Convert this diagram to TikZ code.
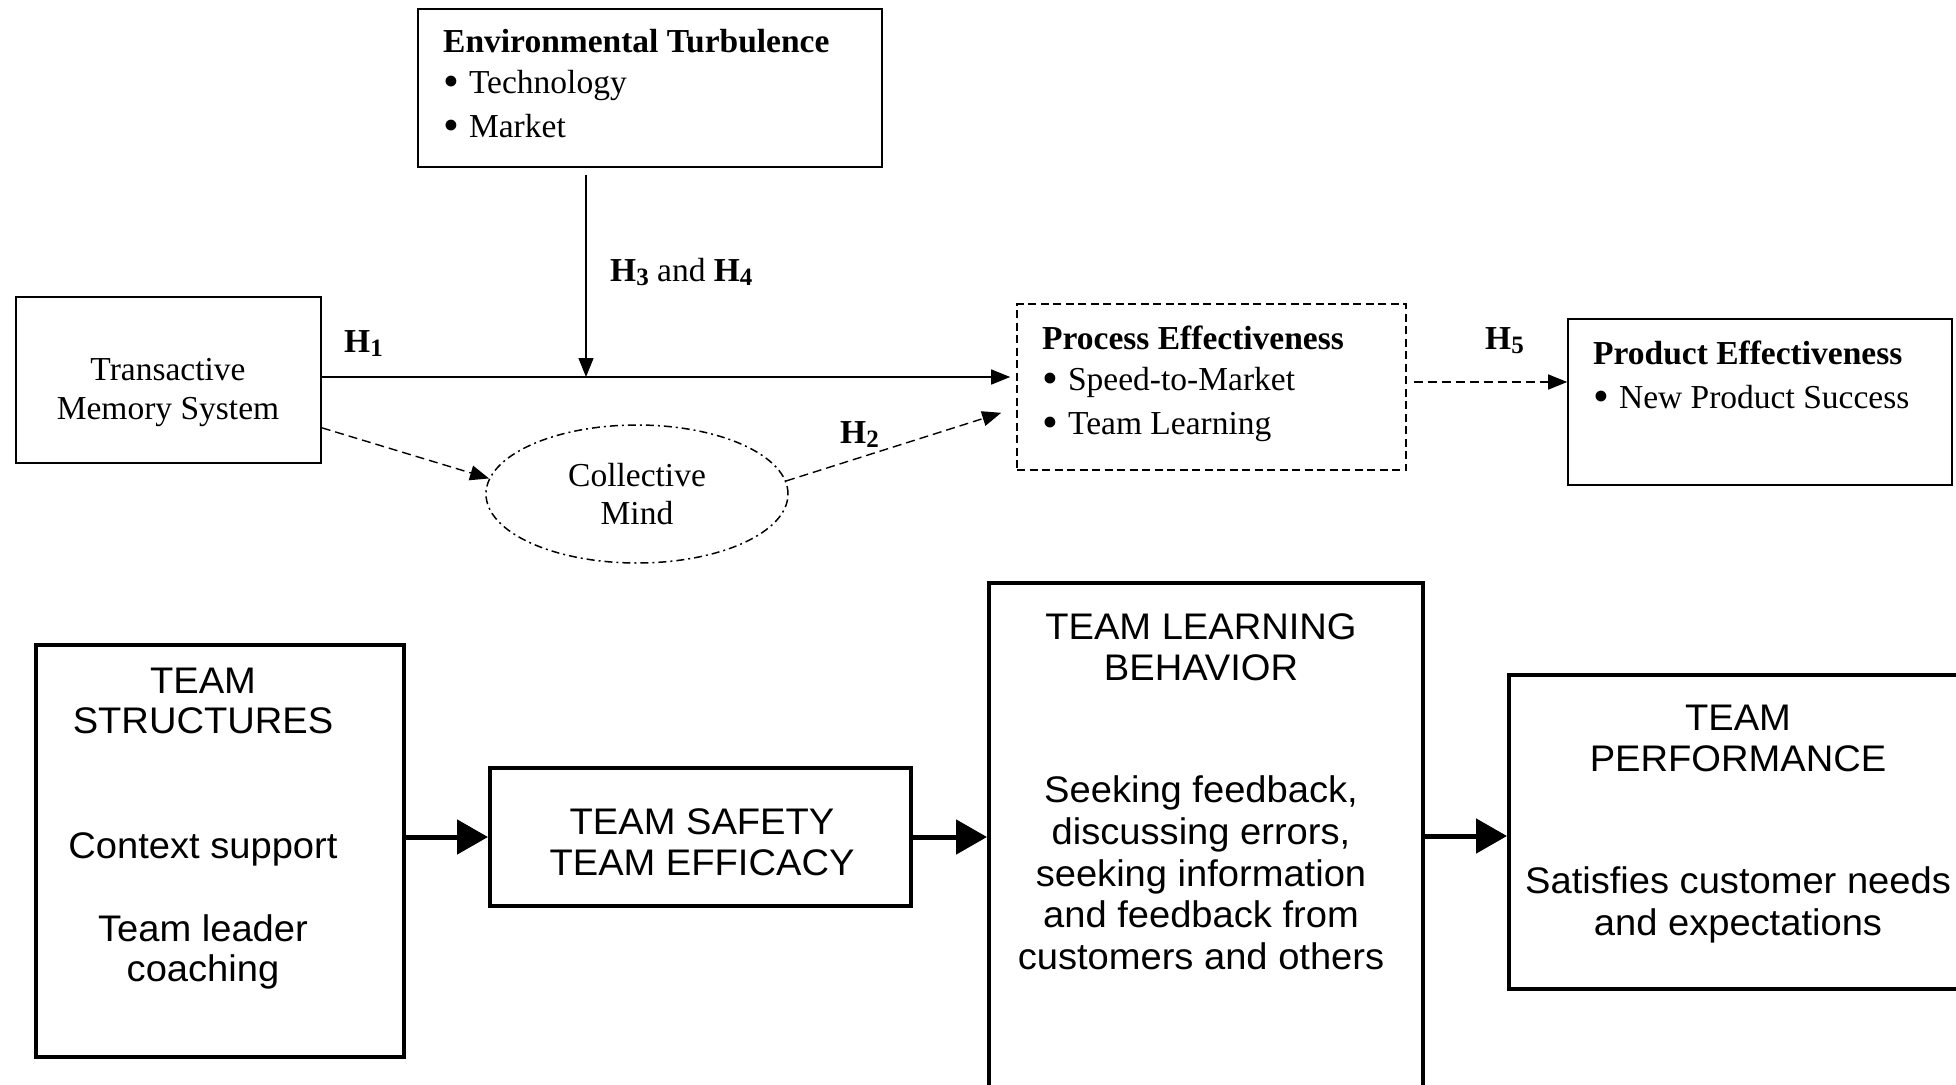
\documentclass[tikz,border=0pt]{standalone}
\usepackage{fontspec}
\setmainfont{Liberation Serif}
\newfontfamily\hvfont[FakeStretch=1.03]{Liberation Sans}
\usetikzlibrary{arrows.meta,shapes.geometric,calc}

\newcommand{\serifsz}{\fontsize{33.5}{40}\selectfont}
\newcommand{\sanssz}{\hvfont\fontsize{37}{44}\selectfont}
% bold hypothesis label with lowered index
\newcommand{\Hn}[1]{\textbf{H\raisebox{-0.3ex}{\fontsize{25}{28}\selectfont #1}}}
\newcommand{\blt}{\raisebox{-0.11em}{\scalebox{1.35}{\textbullet}}\hspace{0.3em}}

\begin{document}
\begin{tikzpicture}[x=1pt,y=-1pt,
  thinbox/.style={draw, line width=1.6pt, rectangle, inner sep=0pt},
  dashbox/.style={thinbox, dash pattern=on 8pt off 4.5pt},
  thickbox/.style={draw, line width=4pt, rectangle, inner sep=0pt},
  ltxt/.style={inner sep=0pt, anchor=base west, font=\serifsz},
  ctxt/.style={inner sep=0pt, anchor=base, font=\serifsz},
  stxt/.style={inner sep=0pt, anchor=base, font=\sanssz},
  tarrow/.style={line width=1.4pt, -{Triangle[length=19pt,width=15pt]}},
  darrow/.style={tarrow, dash pattern=on 9pt off 5pt},
  barrow/.style={line width=5pt, -{Triangle[length=31pt,width=34pt]}}]

\fill[white] (0,0) rectangle (1956,1084);
\useasboundingbox (0,0) rectangle (1956,1084);
\clip (0,0) rectangle (1956,1084);

% ---------- upper model ----------
\node[thinbox, minimum width=464pt, minimum height=158pt] (env) at (650,88) {};
\node[ltxt] (env1) at (443,52) {\textbf{Environmental Turbulence}};
\node[ltxt] (env2) at (443,93) {\blt Technology};
\node[ltxt] (env3) at (443,137) {\blt Market};

\node[thinbox, minimum width=305pt, minimum height=166pt] (tms) at (168.5,380) {};
\node[ctxt] (tms1) at (168,380) {Transactive};
\node[ctxt] (tms2) at (168,419) {Memory System};

\node[dashbox, minimum width=389pt, minimum height=166pt] (proc) at (1211.5,387) {};
\node[ltxt] (proc1) at (1042,349) {\textbf{Process Effectiveness}};
\node[ltxt] (proc2) at (1042,390) {\blt Speed-to-Market};
\node[ltxt] (proc3) at (1042,434) {\blt Team Learning};

\node[thinbox, minimum width=384pt, minimum height=166pt] (prod) at (1760,402) {};
\node[ltxt] (prod1) at (1593,364) {\textbf{Product Effectiveness}};
\node[ltxt] (prod2) at (1593,408) {\blt New Product Success};

\node[ellipse, draw, line width=1.5pt, dash pattern=on 8pt off 4pt on 2pt off 4pt,
      inner sep=0pt, minimum width=302pt, minimum height=138pt] (cm) at (637,494) {};
\node[ctxt] (cm1) at (637,486) {Collective};
\node[ctxt] (cm2) at (637,524) {Mind};

\node[ltxt] (h1) at (344,352) {\Hn{1}};
\node[ltxt] (h34) at (610,281) {\Hn{3} and \Hn{4}};
\node[ltxt] (h2) at (840,443) {\Hn{2}};
\node[ltxt] (h5) at (1485,349) {\Hn{5}};

% connector end points
\coordinate (mod) at (586,175);
\coordinate (h1start) at ($(tms.east)+(0,-3)$);
\coordinate (h1end) at ($(proc.west)+(-6,0)$);
\coordinate (h2end) at ($(proc.south west)+(-15,-58)$);
\coordinate (h5start) at ($(proc.east)+(7,-5)$);
\coordinate (tmslow) at ($(tms.south east)+(0,-36)$);

\draw[tarrow] (h1start) -- (h1start -| h1end);
\draw[tarrow] (mod) -- (h1start -| mod);
\draw[darrow] (tmslow) -- (cm.174);
\draw[darrow] (cm.5) -- (h2end);
\draw[darrow] (h5start) -- (h5start -| prod.west);

% ---------- lower model ----------
\node[thickbox, minimum width=368pt, minimum height=412pt] (ts) at (220,851) {};
\node[stxt] (ts1) at (203,693) {TEAM};
\node[stxt] (ts2) at (203,733) {STRUCTURES};
\node[stxt] (ts3) at (203,858) {Context support};
\node[stxt] (ts4) at (203,941) {Team leader};
\node[stxt] (ts5) at (203,981) {coaching};

\node[thickbox, minimum width=421pt, minimum height=138pt] (safe) at (700.5,837) {};
\node[stxt] (safe1) at (702,834) {TEAM SAFETY};
\node[stxt] (safe2) at (702,875) {TEAM EFFICACY};

\node[thickbox, minimum width=434pt, minimum height=527pt] (tlb) at (1206,846.5) {};
\node[stxt] (tlb1) at (1201,639) {TEAM LEARNING};
\node[stxt] (tlb2) at (1201,680) {BEHAVIOR};
\node[stxt] (tlb3) at (1201,802) {Seeking feedback,};
\node[stxt] (tlb4) at (1201,844) {discussing errors,};
\node[stxt] (tlb5) at (1201,886) {seeking information};
\node[stxt] (tlb6) at (1201,927) {and feedback from};
\node[stxt] (tlb7) at (1201,969) {customers and others};

\node[thickbox, minimum width=481pt, minimum height=314pt] (tp) at (1749.5,832) {};
\node[stxt] (tp1) at (1738,730) {TEAM};
\node[stxt] (tp2) at (1738,771) {PERFORMANCE};
\node[stxt] (tp3) at (1738,893) {Satisfies customer needs};
\node[stxt] (tp4) at (1738,935) {and expectations};

\coordinate (a3) at ($(tp.west)+(0,4)$);
\draw[barrow] (safe.west -| ts.east) -- (safe.west);
\draw[barrow] (safe.east) -- (safe.east -| tlb.west);
\draw[barrow] (a3 -| tlb.east) -- (a3);
\end{tikzpicture}
\end{document}
